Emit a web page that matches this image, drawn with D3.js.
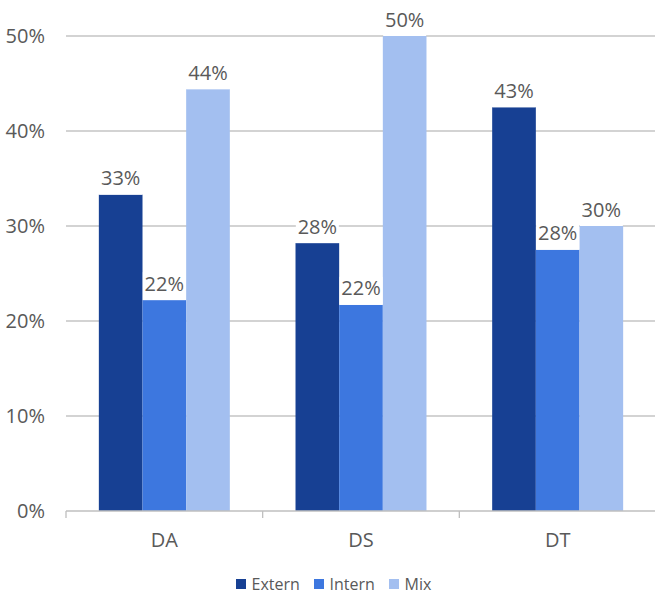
<!DOCTYPE html>
<html>
<head>
<meta charset="utf-8">
<script src="https://cdn.jsdelivr.net/npm/d3@7"></script>
<style>
  html, body { margin: 0; padding: 0; background: #fff; overflow: hidden; }
  svg { display: block; }
  text { font-family: "Open Sans", sans-serif; fill: #595959; }
</style>
</head>
<body>
<div class="chart"></div>
<script>
// data
const categories = ["DA", "DS", "DT"];
const seriesNames = ["Extern", "Intern", "Mix"];
const externVals = [0.333, 0.282, 0.425];
const internVals = [0.222, 0.217, 0.275];
const mixVals = [0.444, 0.500, 0.300];
const yTicks = [0, 0.1, 0.2, 0.3, 0.4, 0.5];
const colors = ["#174093", "#3d77df", "#a3bff0"];

const seriesVals = [externVals, internVals, mixVals];

// set the dimensions and margins of the graph
var margin = {top: 36, right: -1, bottom: 83, left: 66},
    width = 655 - margin.left - margin.right,
    height = 594 - margin.top - margin.bottom;

const svg = d3.select(".chart").append("svg")
    .attr("width", 655)
    .attr("height", 594)
  .append("g")
    .attr("transform", "translate(" + margin.left + "," + margin.top + ")");

// scales
var x = d3.scaleBand()
    .domain(categories)
    .range([0, width])
    .paddingInner(0)
    .paddingOuter(0);

var xs = d3.scaleBand()
    .domain(seriesNames)
    .range([0, x.bandwidth() * 0.666])
    .padding(0);

var y = d3.scaleLinear()
    .domain([0, 0.5])
    .range([height, 0]);

const fs = "20px";

// gridlines
svg.append("g")
  .selectAll("line")
  .data(yTicks.slice(1))
  .enter().append("line")
    .attr("x1", 0)
    .attr("x2", width)
    .attr("y1", d => y(d))
    .attr("y2", d => y(d))
    .style("stroke", "#c4c4c4")
    .style("stroke-width", 1.3);

// y axis labels
svg.append("g")
  .selectAll("text")
  .data(yTicks)
  .enter().append("text")
    .attr("x", -21)
    .attr("y", d => y(d))
    .attr("dy", "0.36em")
    .style("text-anchor", "end")
    .style("font-size", fs)
    .text(d => d3.format(".0%")(d));

// bars
const groupOffset = (x.bandwidth() - xs.range()[1]) / 2;
const groups = svg.selectAll(".grp")
  .data(categories)
  .enter().append("g")
    .attr("class", "grp")
    .attr("transform", d => "translate(" + (x(d) + groupOffset) + ",0)");

groups.each(function(cat, ci) {
  const g = d3.select(this);
  seriesNames.forEach(function(s, si) {
    const v = seriesVals[si][ci];
    g.append("rect")
      .attr("x", xs(s))
      .attr("y", y(v))
      .attr("width", xs.bandwidth())
      .attr("height", height - y(v))
      .style("fill", colors[si]);
  });
});

// value labels (white box behind, like the original)
groups.each(function(cat, ci) {
  const g = d3.select(this);
  seriesNames.forEach(function(s, si) {
    const v = seriesVals[si][ci];
    const cx = xs(s) + xs.bandwidth() / 2;
    g.append("rect")
      .attr("x", cx - 21.5)
      .attr("y", y(v) - 28)
      .attr("width", 43)
      .attr("height", 28)
      .style("fill", "#fff");
    g.append("text")
      .attr("x", cx)
      .attr("y", y(v) - 9.5)
      .style("text-anchor", "middle")
      .style("font-size", fs)
      .text(d3.format(".0%")(v));
  });
});

// x axis line and ticks
const xAxis = svg.append("g").attr("transform", "translate(0," + height + ")");
xAxis.append("line")
  .attr("x1", 0).attr("x2", width)
  .style("stroke", "#bfbfbf").style("stroke-width", 1.3);
xAxis.selectAll(".tk")
  .data(categories.map(c => x(c)))
  .enter().append("line")
    .attr("x1", d => d).attr("x2", d => d)
    .attr("y1", 0).attr("y2", 7)
    .style("stroke", "#bfbfbf").style("stroke-width", 1.3);
xAxis.selectAll(".cat")
  .data(categories)
  .enter().append("text")
    .attr("x", d => x(d) + x.bandwidth() / 2)
    .attr("y", 36)
    .style("text-anchor", "middle")
    .style("font-size", fs)
    .text(d => d);

// legend
const legendX = [236 - margin.left, 314 - margin.left, 389 - margin.left];
const legend = svg.append("g").attr("transform", "translate(0," + (584 - margin.top) + ")");
seriesNames.forEach(function(s, i) {
  legend.append("rect")
    .attr("x", legendX[i])
    .attr("y", -5)
    .attr("width", 10)
    .attr("height", 10)
    .style("fill", colors[i]);
  legend.append("text")
    .attr("x", legendX[i] + 15.5)
    .attr("y", 0)
    .attr("dy", "0.36em")
    .style("font-size", "16px")
    .text(s);
});
</script>
</body>
</html>
